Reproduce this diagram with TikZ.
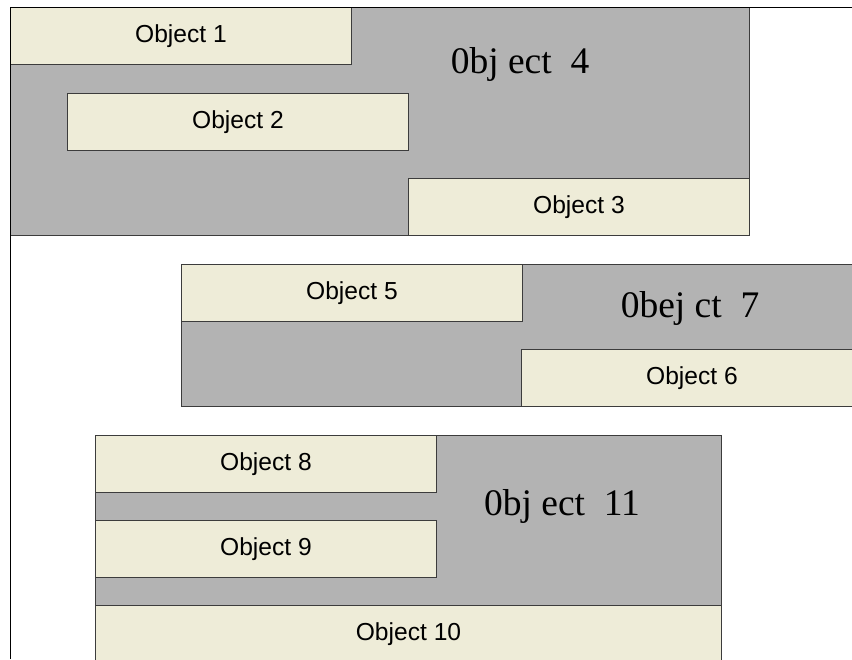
\documentclass[tikz,border=0pt]{standalone}
\usepackage{fontspec}
\setmainfont{Liberation Serif}
\newfontfamily\labelfont{Liberation Sans}
\usepackage{tikz}
\definecolor{pane}{RGB}{179,179,179}
\definecolor{part}{RGB}{238,236,216}
\definecolor{edge}{RGB}{60,60,60}

\begin{document}
\begin{tikzpicture}[x=0.03cm, y=-0.03cm,
  groupbox/.style={rectangle, draw=edge, fill=pane, line width=0.8pt,
                   anchor=north west, inner sep=0pt},
  objbox/.style={rectangle, draw=edge, fill=part, line width=0.8pt,
                 anchor=north west, inner sep=0pt,
                 minimum width=10.23cm, minimum height=1.71cm,
                 font=\labelfont\fontsize{21}{25}\selectfont},
  grptitle/.style={anchor=base, inner sep=0pt,
                   font=\fontsize{32}{36}\selectfont},
  frameline/.style={line width=0.8pt, black}]
  \useasboundingbox (0,0) rectangle (852,659);
  \clip (0,0) rectangle (852,659);

  % first group
  \node[groupbox, minimum width=22.17cm, minimum height=6.84cm] (obj4) at (10,7) {};
  \node[objbox] (obj1) at (10,7) {Object 1};
  \node[objbox] (obj2) at (67,93) {Object 2};
  \node[objbox] (obj3) at (408,178) {Object 3};
  \node[grptitle] (obj4txt) at (520,73) {0bj ect~~4};

  % second group
  \node[groupbox, minimum width=20.43cm, minimum height=4.26cm] (obj7) at (181,264) {};
  \node[objbox] (obj5) at (181,264) {Object 5};
  \node[objbox] (obj6) at (521,349) {Object 6};
  \node[grptitle] (obj7txt) at (690,317) {0bej ct~~7};

  % third group
  \node[groupbox, minimum width=18.78cm, minimum height=6.81cm] (obj11) at (95,435) {};
  \node[objbox] (obj8) at (95,435) {Object 8};
  \node[objbox] (obj9) at (95,520) {Object 9};
  \node[objbox, minimum width=18.78cm] (obj10) at (95,605) {Object 10};
  \node[grptitle] (obj11txt) at (562,515) {0bj ect~~11};

  % page frame
  \draw[frameline] (10,659) |- (852,7);
\end{tikzpicture}
\end{document}
